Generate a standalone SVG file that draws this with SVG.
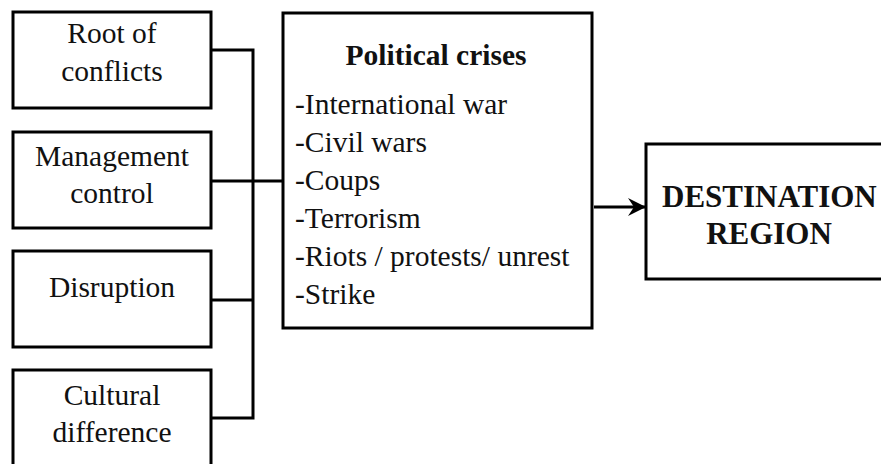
<svg xmlns="http://www.w3.org/2000/svg" width="881" height="464" viewBox="0 0 881 464">
<style>
.box{fill:#fff;stroke:#000;stroke-width:3}
.t{font-family:'Liberation Serif','Times New Roman',serif;font-size:29.5px;fill:#111}
.c{text-anchor:middle}
.b{font-weight:bold}
.d{font-size:31px}
.ln{fill:none;stroke:#000;stroke-width:3}
</style>
<defs>
<marker id="ah" markerWidth="18" markerHeight="18" refX="17" refY="9" orient="auto" markerUnits="userSpaceOnUse">
<path d="M0,0 L18,9 L0,18 L6,9 Z" fill="#000"/>
</marker>
</defs>
<rect width="881" height="464" fill="#fff"/>
<g id="connectors">
<path class="ln" d="M211,50 H253 V418 H211"/>
<path class="ln" d="M211,300 H253"/>
<path class="ln" d="M211,181 H285"/>
<path class="ln" d="M594,207 H645" marker-end="url(#ah)"/>
</g>
<g id="root">
<rect class="box" x="13" y="12" width="198" height="96"/>
<text class="t c" x="112" y="43">Root of</text>
<text class="t c" x="112" y="81">conflicts</text>
</g>
<g id="management">
<rect class="box" x="13" y="132" width="198" height="96"/>
<text class="t c" x="112" y="166">Management</text>
<text class="t c" x="112" y="203">control</text>
</g>
<g id="disruption">
<rect class="box" x="13" y="251" width="198" height="96"/>
<text class="t c" x="112" y="297">Disruption</text>
</g>
<g id="cultural">
<rect class="box" x="13" y="370" width="198" height="100"/>
<text class="t c" x="112" y="405">Cultural</text>
<text class="t c" x="112" y="442">difference</text>
</g>
<g id="political">
<rect class="box" x="283" y="13" width="309" height="315"/>
<text class="t c b" x="436" y="65">Political crises</text>
<text class="t" x="295" y="114">-International war</text>
<text class="t" x="295" y="152">-Civil wars</text>
<text class="t" x="295" y="190">-Coups</text>
<text class="t" x="295" y="228">-Terrorism</text>
<text class="t" x="295" y="266">-Riots / protests/ unrest</text>
<text class="t" x="295" y="304">-Strike</text>
</g>
<g id="destination">
<rect class="box" x="646" y="144" width="245" height="135"/>
<text class="t b d" x="662" y="207">DESTINATION</text>
<text class="t c b d" x="769" y="244">REGION</text>
</g>
</svg>
